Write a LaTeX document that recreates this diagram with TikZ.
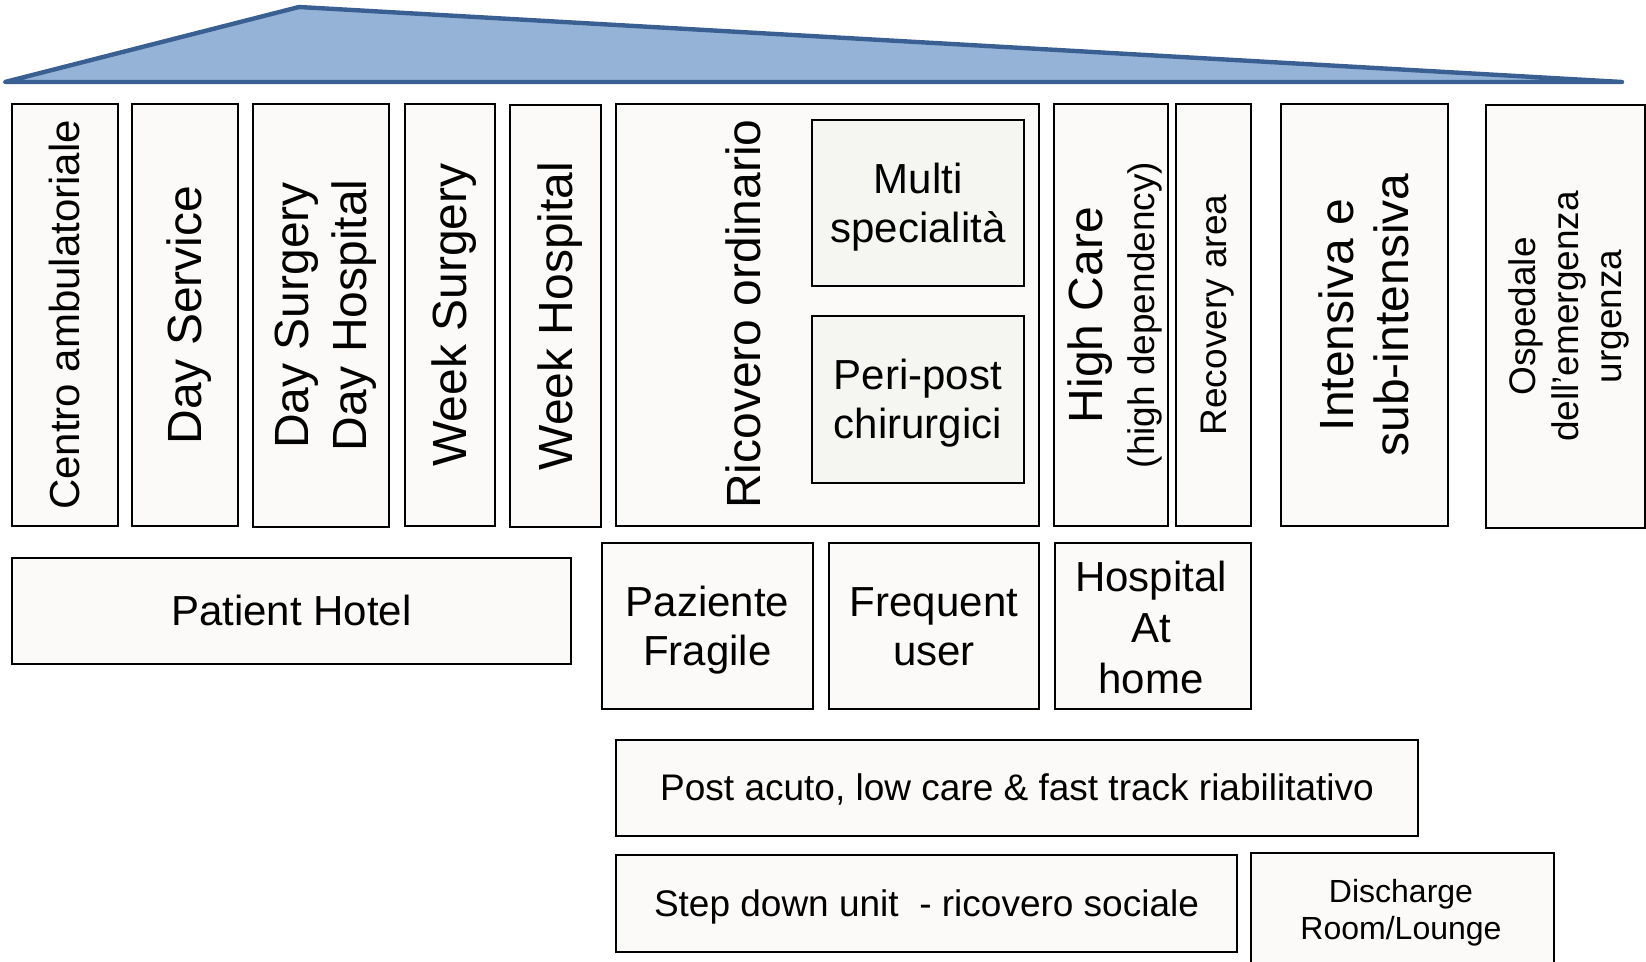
\documentclass[tikz,border=0pt]{standalone}
\usepackage{fontspec}
\setmainfont{Liberation Sans}
\usetikzlibrary{fit}
\definecolor{rooffill}{HTML}{95B3D7}
\definecolor{roofline}{HTML}{3A6093}
\definecolor{boxfill}{HTML}{FBFAF8}
\definecolor{innerfill}{HTML}{F5F5F2}
\newcommand\ls{\rule[-0.212em]{0pt}{1.117em}}
\tikzset{
  box/.style={draw=black, line width=1pt, fill=boxfill, inner sep=0pt},
  innerbox/.style={box, fill=innerfill},
  roof/.style={draw=roofline, fill=rooffill, line width=2.2pt, line join=round, line cap=round},
  bigtxt/.style={font=\fontsize{24}{27.5}\selectfont, align=center, inner sep=0pt},
  midtxt/.style={font=\fontsize{21}{24.5}\selectfont, align=center, inner sep=0pt},
  smalltxt/.style={font=\fontsize{18.5}{21.5}\selectfont, align=center, inner sep=0pt},
  tinytxt/.style={font=\fontsize{16}{18.5}\selectfont, align=center, inner sep=0pt},
  vert/.style={rotate=90},
}
\begin{document}
\begin{tikzpicture}[x=0.5pt,y=-0.5pt]
\useasboundingbox (0,0) rectangle (1646,962);
\clip (0,0) rectangle (1646,962);

% roof
\draw[roof] (5,82) -- (299,7) -- (1622,82) -- cycle;

% top row
\node[box, fit={(11.5,104) (117.5,526)}] (ca) {};
\node[midtxt, vert] (tca) at (ca.center) {\ls Centro ambulatoriale};

\node[box, fit={(132,104) (238,526)}] (ds) {};
\node[bigtxt, vert] (tds) at (ds.center) {\ls Day Service};

\node[box, fit={(253,104) (389,527)}] (dsh) {};
\node[bigtxt, vert, font=\fontsize{24}{29}\selectfont] (tdsh) at (dsh.center) {\ls Day Surgery\\\ls Day Hospital};

\node[box, fit={(405,104) (495,526)}] (ws) {};
\node[bigtxt, vert] (tws) at (ws.center) {\ls Week Surgery};

\node[box, fit={(510,105) (601,527)}] (wh) {};
\node[bigtxt, vert] (twh) at (wh.center) {\ls Week Hospital};

\node[box, fit={(616,104) (1039,526)}] (ro) {};
\node[bigtxt, vert] (tro) at (744,314) {\ls Ricovero ordinario};
\node[innerbox, fit={(812,120) (1024,286)}] (ms) {};
\node[midtxt] (tms) at (ms.center) {\ls Multi\\\ls specialità};
\node[innerbox, fit={(812,316) (1024,483)}] (pp) {};
\node[midtxt] (tpp) at (pp.center) {\ls Peri-post\\\ls chirurgici};

\node[box, fit={(1054,104) (1168,526)}] (hc) {};
\node[bigtxt, vert, font=\fontsize{24}{26}\selectfont] (thc) at (hc.center) {\ls High Care\\{\fontsize{18.5}{26}\selectfont\ls(high dependency)}};

\node[box, fit={(1176,104) (1251,526)}] (ra) {};
\node[smalltxt, vert] (tra) at (ra.center) {\ls Recovery area};

\node[box, fit={(1281,104) (1448,526)}] (is) {};
\node[bigtxt, vert] (tis) at (is.center) {\ls Intensiva e\\\ls sub-intensiva};

\node[box, fit={(1486,105) (1645,528)}] (oe) {};
\node[smalltxt, vert] (toe) at (oe.center) {\ls Ospedale\\\ls dell’emergenza\\\ls urgenza};

% second row
\node[box, fit={(11.5,558) (571,664)}] (ph) {};
\node[midtxt] (tph) at (ph.center) {\ls Patient Hotel};

\node[box, fit={(602,543) (813,709)}] (pf) {};
\node[midtxt] (tpf) at (pf.center) {\ls Paziente\\\ls Fragile};

\node[box, fit={(829,543) (1039,709)}] (fu) {};
\node[midtxt] (tfu) at (fu.center) {\ls Frequent\\\ls user};

\node[box, fit={(1055,543) (1251,709)}] (hh) {};
\node[midtxt, font=\fontsize{21}{25.5}\selectfont] (thh) at (1151,628) {\ls Hospital\\\ls At\\\ls home};

% third row
\node[box, fit={(616,740) (1418,836)}] (pa) {};
\node[smalltxt] (tpa) at (pa.center) {\ls Post acuto, low care \& fast track riabilitativo};

% fourth row
\node[box, fit={(616,855) (1237,952)}] (sd) {};
\node[smalltxt] (tsd) at (sd.center) {\ls Step down unit \ - ricovero sociale};

\node[box, fit={(1251,853) (1554,980)}] (dr) {};
\node[tinytxt] (tdr) at (1401,910) {\ls Discharge\\\ls Room/Lounge};
\end{tikzpicture}
\end{document}
